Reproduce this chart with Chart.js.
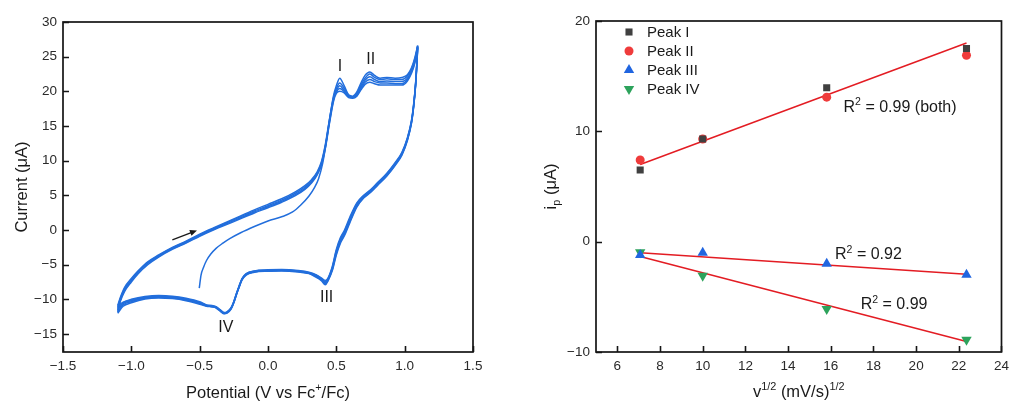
<!DOCTYPE html>
<html>
<head>
<meta charset="utf-8">
<script src="https://cdn.jsdelivr.net/npm/chart.js@4.4.1/dist/chart.umd.min.js"></script>
<style>
  html, body { margin: 0; padding: 0; background: #fff; }
  #wrap { position: relative; width: 1015px; height: 403px; overflow: hidden; }
  #cv { position: absolute; left: 0; top: 0; }
  #ip { position: absolute; left: 500px; top: 0; }
</style>
</head>
<body>
<div id="wrap">
  <canvas id="cv" width="500" height="403"></canvas>
  <canvas id="ip" width="515" height="403"></canvas>
</div>
<script>
// ---------- Cyclic voltammogram: potential (V vs Fc+/Fc) and current (uA) ----------
const cvPotentialTicks = [-1.5, -1.0, -0.5, 0.0, 0.5, 1.0, 1.5];
const cvCurrentTicks = [-15, -10, -5, 0, 5, 10, 15, 20, 25, 30];

// first anodic sweep, starting at -0.5 V
const firstSweepPotential = [-0.503, -0.49, -0.47, -0.45, -0.42, -0.38, -0.33, -0.28, -0.20, -0.10, 0.00, 0.10, 0.18, 0.24, 0.30, 0.34, 0.37, 0.40, 0.42, 0.45, 0.48, 0.50, 0.525, 0.555, 0.59, 0.62, 0.65, 0.68, 0.71, 0.745, 0.78, 0.82, 0.87, 0.93, 0.98, 1.02, 1.05, 1.075, 1.095];
const firstSweepCurrent = [-8.4, -6.5, -5.3, -4.4, -3.5, -2.65, -1.9, -1.25, -0.4, 0.5, 1.3, 1.9, 2.6, 3.6, 4.9, 6.1, 7.4, 9.6, 11.9, 15.9, 19.4, 20.8, 21.9, 20.9, 19.5, 19.3, 19.9, 21.2, 22.3, 22.8, 22.3, 21.9, 22.0, 21.9, 22.0, 22.4, 23.4, 24.9, 26.6];

// anodic sweeps of cycles 2-5
const anodicPotential = [-1.10, -1.08, -1.05, -1.00, -0.95, -0.88, -0.80, -0.70, -0.60, -0.50, -0.40, -0.25, -0.10, 0.00, 0.10, 0.20, 0.27, 0.32, 0.36, 0.39, 0.42, 0.45, 0.48, 0.50, 0.525, 0.555, 0.59, 0.62, 0.65, 0.68, 0.71, 0.745, 0.78, 0.82, 0.87, 0.93, 0.98, 1.02, 1.05, 1.075, 1.095];
const anodicCycle2 = [-10.9, -9.7, -8.3, -7.0, -5.9, -4.6, -3.6, -2.5, -1.6, -0.6, 0.3, 1.6, 2.9, 3.7, 4.5, 5.5, 6.4, 7.3, 8.4, 9.8, 12.4, 16.0, 19.2, 20.4, 21.2, 20.5, 19.4, 19.2, 19.7, 20.9, 21.9, 22.5, 22.0, 21.7, 21.8, 21.7, 21.7, 22.2, 23.2, 24.7, 26.5];
const anodicCycle3 = [-11.2, -9.9, -8.5, -7.2, -6.0, -4.7, -3.7, -2.6, -1.7, -0.7, 0.2, 1.5, 2.75, 3.5, 4.3, 5.3, 6.2, 7.1, 8.25, 9.6, 12.2, 15.8, 19.0, 20.1, 20.8, 20.2, 19.3, 19.1, 19.5, 20.6, 21.6, 22.1, 21.7, 21.4, 21.5, 21.4, 21.4, 21.9, 23.0, 24.5, 26.4];
const anodicCycle4 = [-11.5, -10.1, -8.7, -7.3, -6.1, -4.8, -3.8, -2.7, -1.8, -0.8, 0.1, 1.35, 2.6, 3.35, 4.15, 5.1, 6.0, 6.95, 8.1, 9.45, 12.0, 15.6, 18.8, 19.9, 20.4, 20.0, 19.2, 19.1, 19.4, 20.4, 21.3, 21.7, 21.4, 21.2, 21.2, 21.1, 21.1, 21.7, 22.8, 24.3, 26.3];
const anodicCycle5 = [-11.8, -10.3, -8.9, -7.5, -6.3, -5.0, -3.9, -2.8, -1.9, -0.9, 0.0, 1.2, 2.45, 3.2, 4.0, 4.95, 5.85, 6.8, 7.95, 9.3, 11.8, 15.4, 18.6, 19.7, 20.0, 19.8, 19.1, 19.0, 19.3, 20.2, 21.0, 21.3, 21.1, 20.9, 20.9, 20.9, 20.9, 21.5, 22.6, 24.1, 26.2];

// cathodic sweeps of cycles 1-5
const cathodicPotential = [1.095, 1.09, 1.08, 1.065, 1.05, 1.02, 0.98, 0.93, 0.87, 0.80, 0.75, 0.70, 0.65, 0.60, 0.56, 0.53, 0.50, 0.47, 0.44, 0.42, 0.39, 0.35, 0.30, 0.22, 0.10, 0.00, -0.10, -0.16, -0.19, -0.21, -0.23, -0.25, -0.27, -0.30, -0.32, -0.35, -0.38, -0.41, -0.45, -0.50, -0.60, -0.70, -0.80, -0.90, -1.00, -1.06, -1.10];
const cathodicCycle1 = [26.6, 24.5, 21.2, 18.0, 15.8, 13.3, 11.2, 9.7, 8.2, 6.8, 5.8, 5.0, 3.9, 1.9, 0.0, -1.1, -2.8, -5.3, -6.9, -7.3, -6.9, -6.45, -6.1, -5.85, -5.7, -5.75, -5.9, -6.3, -7.0, -8.0, -9.1, -10.3, -11.2, -11.8, -11.9, -11.5, -11.05, -10.9, -10.8, -10.35, -9.85, -9.55, -9.45, -9.6, -10.0, -10.4, -10.9];
const cathodicCycle2 = [26.5, 24.4, 21.1, 17.9, 15.7, 13.2, 11.1, 9.6, 8.1, 6.7, 5.7, 4.9, 3.75, 1.7, -0.2, -1.3, -3.0, -5.45, -7.0, -7.45, -7.0, -6.5, -6.15, -5.9, -5.75, -5.8, -5.95, -6.35, -7.05, -8.05, -9.15, -10.35, -11.25, -11.85, -11.95, -11.55, -11.1, -10.95, -10.85, -10.45, -9.95, -9.65, -9.55, -9.7, -10.1, -10.5, -11.2];
const cathodicCycle3 = [26.4, 24.3, 21.0, 17.8, 15.6, 13.1, 11.0, 9.5, 8.0, 6.6, 5.6, 4.8, 3.6, 1.5, -0.4, -1.5, -3.2, -5.6, -7.1, -7.6, -7.1, -6.6, -6.2, -5.95, -5.8, -5.85, -6.0, -6.4, -7.1, -8.1, -9.2, -10.4, -11.3, -11.9, -12.0, -11.6, -11.15, -11.0, -10.9, -10.5, -10.0, -9.7, -9.6, -9.75, -10.2, -10.6, -11.5];
const cathodicCycle4 = [26.3, 24.2, 20.9, 17.7, 15.5, 13.0, 10.9, 9.4, 7.9, 6.5, 5.5, 4.7, 3.45, 1.3, -0.6, -1.7, -3.4, -5.75, -7.2, -7.75, -7.2, -6.7, -6.25, -6.0, -5.85, -5.9, -6.05, -6.45, -7.15, -8.15, -9.25, -10.45, -11.35, -11.95, -12.05, -11.65, -11.2, -11.05, -10.95, -10.6, -10.1, -9.8, -9.7, -9.85, -10.35, -10.8, -11.8];
const cathodicCycle5 = [26.2, 24.1, 20.8, 17.6, 15.4, 12.9, 10.8, 9.3, 7.8, 6.4, 5.4, 4.6, 3.3, 1.1, -0.8, -1.9, -3.6, -5.9, -7.3, -7.9, -7.3, -6.8, -6.3, -6.05, -5.9, -5.95, -6.1, -6.5, -7.2, -8.2, -9.3, -10.5, -11.4, -12.0, -12.1, -11.7, -11.25, -11.1, -11.0, -10.7, -10.2, -9.9, -9.8, -9.95, -10.5, -11.0, -12.0];

// ---------- Peak current vs square root of scan rate ----------
const scanRateRoot = [7.07, 10.0, 15.81, 22.36];
const peakI = [6.5, 9.3, 13.95, 17.5];
const peakII = [7.4, 9.3, 13.1, 16.9];
const peakIII = [-1.2, -1.0, -2.0, -3.0];
const peakIV = [-0.95, -3.1, -6.1, -8.9];
const peakLabels = ['Peak I', 'Peak II', 'Peak III', 'Peak IV'];
const fitX = [7.07, 22.36];
const fitPeaksIandII = [7.0, 18.0];
const fitPeakIII = [-1.0, -2.95];
const fitPeakIV = [-1.35, -9.05];
const ipXTicks = [6, 8, 10, 12, 14, 16, 18, 20, 22, 24];
const ipYTicks = [-10, 0, 10, 20];

// ---------- shared styling ----------
const FONT = '"Liberation Sans", Arial, Helvetica, sans-serif';
const INK = '#1a1a1a';
const TICK_INK = '#2a2a2a';
const CV_BLUE = 'rgb(34,110,220)';

const pairs = (xs, ys) => xs.map((x, i) => ({ x, y: ys[i] }));
const signed = (v, d) => (v < 0 ? '\u2212' : '') + Math.abs(v).toFixed(d);

// draws text made of normal / superscript / subscript runs
function drawRich(ctx, runs, x, y, size, opts = {}) {
  const small = size * 0.66;
  ctx.save();
  ctx.translate(x, y);
  if (opts.rotate) ctx.rotate(opts.rotate);
  const widths = runs.map(([t, k]) => {
    ctx.font = (k ? small : size) + 'px ' + FONT;
    return ctx.measureText(t).width;
  });
  const total = widths.reduce((a, b) => a + b, 0);
  let cx = opts.align === 'left' ? 0 : -total / 2;
  const base = size * 0.36;
  ctx.fillStyle = opts.color || INK;
  ctx.textBaseline = 'alphabetic';
  ctx.textAlign = 'left';
  runs.forEach(([t, k], i) => {
    ctx.font = (k ? small : size) + 'px ' + FONT;
    const dy = k === 'sup' ? -size * 0.4 : k === 'sub' ? size * 0.24 : 0;
    ctx.fillText(t, cx, base + dy);
    cx += widths[i];
  });
  ctx.restore();
}

// box frame, inward tick marks, axis titles and text labels
const decorPlugin = {
  id: 'decor',
  afterDraw(chart, args, o) {
    const ctx = chart.ctx;
    const a = chart.chartArea;
    const sx = chart.scales.x, sy = chart.scales.y;
    ctx.save();
    ctx.strokeStyle = '#151515';
    ctx.lineWidth = 1.6;
    ctx.beginPath();
    sx.ticks.forEach(t => {
      const px = Math.round(sx.getPixelForValue(t.value)) + 0.5;
      ctx.moveTo(px, a.bottom);
      ctx.lineTo(px, a.bottom - 6);
    });
    sy.ticks.forEach(t => {
      const py = Math.round(sy.getPixelForValue(t.value)) + 0.5;
      ctx.moveTo(a.left, py);
      ctx.lineTo(a.left + 6, py);
    });
    ctx.stroke();
    ctx.lineWidth = 1.7;
    ctx.strokeRect(a.left, a.top, a.right - a.left, a.bottom - a.top);
    ctx.restore();

    // axis titles
    drawRich(ctx, o.xTitle, (a.left + a.right) / 2, o.xTitleY, 16.5);
    drawRich(ctx, o.yTitle, o.yTitleX, (a.top + a.bottom) / 2, 16.5, { rotate: -Math.PI / 2 });

    // labels placed in data coordinates
    (o.labels || []).forEach(l => {
      drawRich(ctx, l.runs, sx.getPixelForValue(l.x), sy.getPixelForValue(l.y), l.size, { align: l.align });
    });

    // scan-direction arrow
    if (o.arrow) {
      const x1 = sx.getPixelForValue(o.arrow.from[0]), y1 = sy.getPixelForValue(o.arrow.from[1]);
      const x2 = sx.getPixelForValue(o.arrow.to[0]), y2 = sy.getPixelForValue(o.arrow.to[1]);
      const ang = Math.atan2(y2 - y1, x2 - x1);
      ctx.save();
      ctx.strokeStyle = INK; ctx.fillStyle = INK; ctx.lineWidth = 1.3;
      ctx.beginPath();
      ctx.moveTo(x1, y1);
      ctx.lineTo(x2 - 4 * Math.cos(ang), y2 - 4 * Math.sin(ang));
      ctx.stroke();
      ctx.beginPath();
      ctx.moveTo(x2, y2);
      ctx.lineTo(x2 - 7 * Math.cos(ang) + 3 * Math.sin(ang), y2 - 7 * Math.sin(ang) - 3 * Math.cos(ang));
      ctx.lineTo(x2 - 7 * Math.cos(ang) - 3 * Math.sin(ang), y2 - 7 * Math.sin(ang) + 3 * Math.cos(ang));
      ctx.closePath();
      ctx.fill();
      ctx.restore();
    }

    // legend inside the plot area
    if (o.legend) {
      const L = o.legend;
      L.items.forEach((idx, row) => {
        const ds = chart.data.datasets[idx];
        const y = L.top + row * L.rowGap;
        ctx.save();
        ctx.fillStyle = ds.backgroundColor;
        ctx.strokeStyle = ds.backgroundColor;
        Chart.helpers.drawPoint(ctx, {
          pointStyle: ds.pointStyle, radius: ds.pointRadius,
          rotation: ds.pointRotation || 0, borderWidth: 0
        }, a.left + L.markerDx, y);
        ctx.restore();
        ctx.save();
        ctx.font = '15px ' + FONT;
        ctx.fillStyle = INK;
        ctx.textBaseline = 'middle';
        ctx.fillText(ds.label, a.left + L.textDx, y + 0.5);
        ctx.restore();
      });
    }
  }
};

function linearAxis(min, max, ticks, digits, size) {
  return {
    type: 'linear', min, max,
    afterBuildTicks: s => { s.ticks = ticks.map(v => ({ value: v })); },
    afterFit: s => { if (s.isHorizontal()) s.height = size; else s.width = size; },
    grid: { display: false, drawTicks: false },
    border: { display: false },
    ticks: {
      autoSkip: false, maxRotation: 0, padding: 6, color: TICK_INK,
      font: { family: FONT, size: 13.5 },
      callback: v => signed(v, digits)
    }
  };
}

// ---------- left chart ----------
const cvLine = (xs, ys) => ({
  data: pairs(xs, ys), showLine: true, borderColor: CV_BLUE, borderWidth: 1.5,
  pointRadius: 0, cubicInterpolationMode: 'monotone', fill: false
});

new Chart(document.getElementById('cv'), {
  type: 'scatter',
  data: {
    datasets: [
      cvLine(firstSweepPotential, firstSweepCurrent),
      cvLine(cathodicPotential, cathodicCycle1),
      cvLine(anodicPotential, anodicCycle2),
      cvLine(cathodicPotential, cathodicCycle2),
      cvLine(anodicPotential, anodicCycle3),
      cvLine(cathodicPotential, cathodicCycle3),
      cvLine(anodicPotential, anodicCycle4),
      cvLine(cathodicPotential, cathodicCycle4),
      cvLine(anodicPotential, anodicCycle5),
      cvLine(cathodicPotential, cathodicCycle5)
    ]
  },
  options: {
    responsive: false, animation: false, devicePixelRatio: 1,
    layout: { padding: { top: 22, right: 27, left: 0, bottom: 0 } },
    plugins: {
      legend: { display: false }, tooltip: { enabled: false },
      decor: {
        xTitle: [['Potential (V vs Fc', ''], ['+', 'sup'], ['/Fc)', '']],
        xTitleY: 392,
        yTitle: [['Current (\u03bcA)', '']],
        yTitleX: 21,
        labels: [
          { runs: [['I', '']], x: 0.526, y: 23.8, size: 16 },
          { runs: [['II', '']], x: 0.751, y: 24.8, size: 16 },
          { runs: [['III', '']], x: 0.429, y: -9.5, size: 16 },
          { runs: [['IV', '']], x: -0.308, y: -13.9, size: 16 }
        ],
        arrow: { from: [-0.70, -1.42], to: [-0.52, -0.06] }
      }
    },
    scales: {
      x: linearAxis(-1.5, 1.5, cvPotentialTicks, 1, 51),
      y: linearAxis(-17.6, 30, cvCurrentTicks, 0, 63)
    }
  },
  plugins: [decorPlugin]
});

// ---------- right chart ----------
const marker = (label, ys, color, style, radius, rotation) => ({
  label, data: pairs(scanRateRoot, ys), backgroundColor: color, borderColor: color,
  pointStyle: style, pointRadius: radius, pointRotation: rotation || 0,
  pointBorderWidth: 0, showLine: false
});
const fitLine = ys => ({
  data: pairs(fitX, ys), showLine: true, borderColor: '#e31c23', borderWidth: 1.5,
  pointRadius: 0, fill: false
});

new Chart(document.getElementById('ip'), {
  type: 'scatter',
  data: {
    datasets: [
      marker(peakLabels[0], peakI, '#404040', 'rect', 5),
      marker(peakLabels[1], peakII, '#ef3b3b', 'circle', 4.5),
      marker(peakLabels[2], peakIII, '#2065e0', 'triangle', 6),
      marker(peakLabels[3], peakIV, '#2da35c', 'triangle', 6, 180),
      fitLine(fitPeaksIandII),
      fitLine(fitPeakIII),
      fitLine(fitPeakIV)
    ]
  },
  options: {
    responsive: false, animation: false, devicePixelRatio: 1,
    layout: { padding: { top: 21, right: 7, left: 0, bottom: 0 } },
    plugins: {
      legend: { display: false }, tooltip: { enabled: false },
      decor: {
        xTitle: [['v', ''], ['1/2', 'sup'], [' (mV/s)', ''], ['1/2', 'sup']],
        xTitleY: 391,
        yTitle: [['i', ''], ['p', 'sub'], [' (\u03bcA)', '']],
        yTitleX: 50,
        labels: [
          { runs: [['R', ''], ['2', 'sup'], [' = 0.99 (both)', '']], x: 16.6, y: 12.3, size: 16, align: 'left' },
          { runs: [['R', ''], ['2', 'sup'], [' = 0.92', '']], x: 16.2, y: -1.06, size: 16, align: 'left' },
          { runs: [['R', ''], ['2', 'sup'], [' = 0.99', '']], x: 17.4, y: -5.6, size: 16, align: 'left' }
        ],
        legend: { items: [0, 1, 2, 3], top: 32, rowGap: 19, markerDx: 33, textDx: 51 }
      }
    },
    scales: {
      x: linearAxis(5, 24, ipXTicks, 0, 51),
      y: linearAxis(-10, 20, ipYTicks, 0, 96)
    }
  },
  plugins: [decorPlugin]
});
</script>
</body>
</html>
